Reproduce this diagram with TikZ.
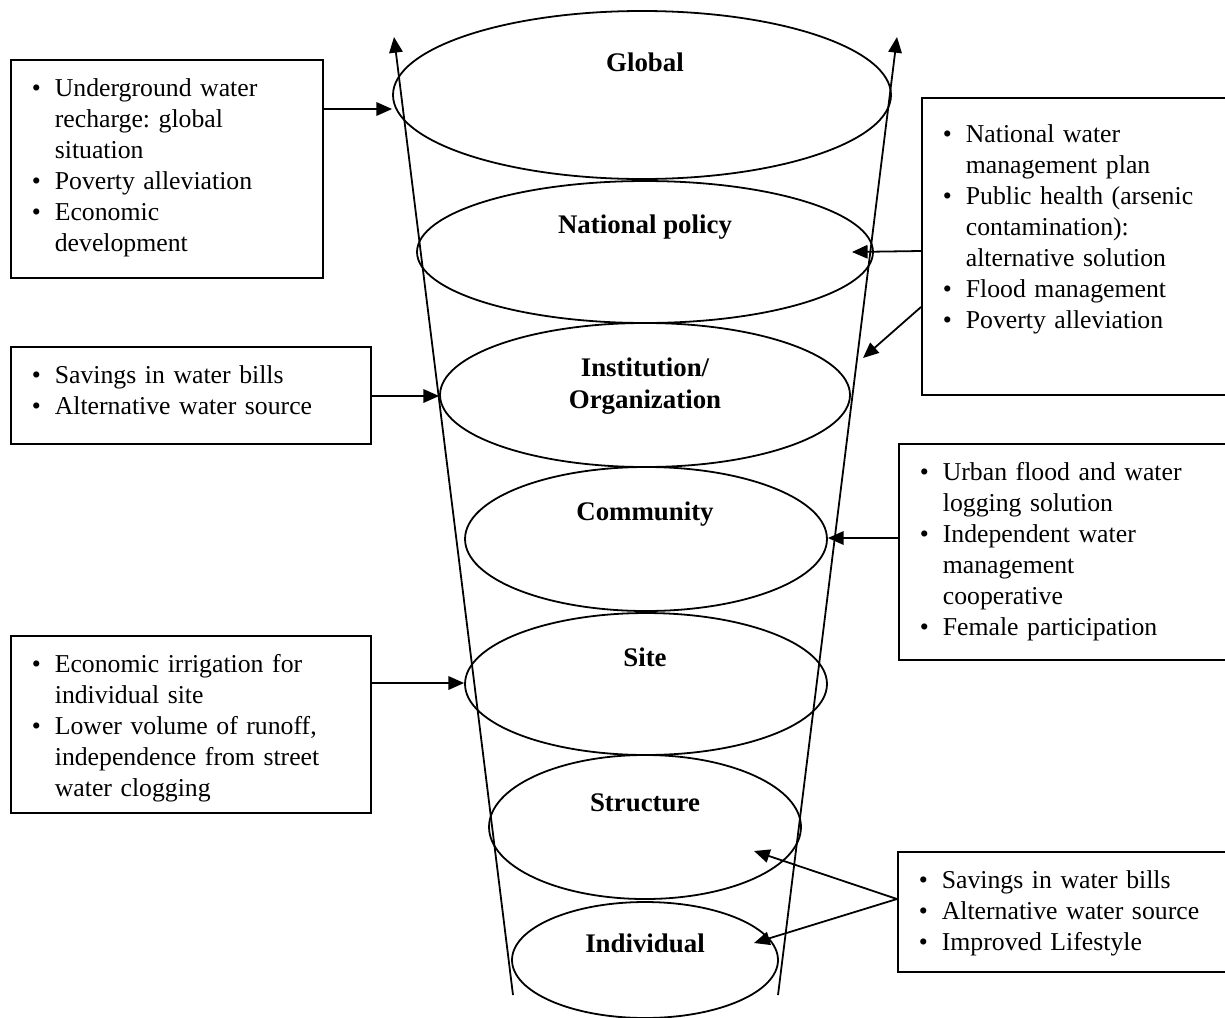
\documentclass[tikz,border=0pt]{standalone}
\usepackage{fontspec}
\setmainfont{Liberation Serif}
\usepackage{tikz}
\usetikzlibrary{positioning, arrows.meta, shapes}
\frenchspacing

\begin{document}
\begin{tikzpicture}[
            x=0.0157cm, y=-0.0157cm,
            ring/.style={ellipse, draw, line width=0.8pt, inner sep=0pt},
            lvl/.style={font=\fontsize{12}{14}\selectfont\bfseries, align=center},
            note/.style={rectangle, draw, line width=0.8pt, anchor=north west, align=left,
                inner xsep=0.33cm, inner ysep=0pt, text height=0.581cm},
            arr/.style={-{Triangle[length=7pt, width=6pt]}, line width=0.8pt},
            every node/.style={font=\fontsize{11.5}{13.8}\selectfont}
        ]
        \useasboundingbox (0,0) rectangle (1225,1017);
        \clip (0,0) rectangle (1225,1017);

        % Levels of the funnel
        \node[ring, minimum width=7.819cm, minimum height=2.638cm] (glob) at (642,95) {};
        \node[ring, minimum width=7.159cm, minimum height=2.229cm] (natl) at (645,252) {};
        \node[ring, minimum width=6.437cm, minimum height=2.261cm] (inst) at (645,395) {};
        \node[ring, minimum width=5.683cm, minimum height=2.261cm] (comm) at (646,539) {};
        \node[ring, minimum width=5.683cm, minimum height=2.229cm] (site) at (646,684) {};
        \node[ring, minimum width=4.898cm, minimum height=2.261cm] (strc) at (645,827) {};
        \node[ring, minimum width=4.176cm, minimum height=1.821cm] (indv) at (645,960) {};

        \node[lvl] (globtxt) at (645,62) {Global};
        \node[lvl] (natltxt) at (645,227) {National policy};
        \node[lvl] (insttxt) at (645,386) {Institution/\\Organization};
        \node[lvl] (commtxt) at (645,514) {Community};
        \node[lvl] (sitetxt) at (645,657) {Site};
        \node[lvl] (strctxt) at (645,803) {Structure};
        \node[lvl] (indvtxt) at (645,943) {Individual};

        % Funnel sides
        \coordinate (lbot) at (513,995);
        \coordinate (ltop) at (394,37);
        \coordinate (rbot) at (778,995);
        \coordinate (rtop) at (897,37);
        \draw[arr] (lbot) -- (ltop);
        \draw[arr] (rbot) -- (rtop);

        % Benefit boxes
        \node[note, text width=4.238cm, text depth=2.842cm] (b1) at (10,59) {%
            \begin{tabular}[t]{@{}p{0.36cm}@{}l@{}}
            \textbullet & Underground water\\
                        & recharge: global\\
                        & situation\\
            \textbullet & Poverty alleviation\\
            \textbullet & Economic\\
                        & development
            \end{tabular}};
        \node[note, text width=4.427cm, text height=0.707cm, text depth=3.956cm] (b2) at (921,97) {%
            \begin{tabular}[t]{@{}p{0.36cm}@{}l@{}}
            \textbullet & National water\\
                        & management plan\\
            \textbullet & Public health (arsenic\\
                        & contamination):\\
                        & alternative solution\\
            \textbullet & Flood management\\
            \textbullet & Poverty alleviation
            \end{tabular}};
        \node[note, text width=4.992cm, text depth=0.942cm] (b3) at (10,346) {%
            \begin{tabular}[t]{@{}p{0.36cm}@{}l@{}}
            \textbullet & Savings in water bills\\
            \textbullet & Alternative water source
            \end{tabular}};
        \node[note, text width=4.788cm, text depth=2.810cm] (b4) at (898,443) {%
            \begin{tabular}[t]{@{}p{0.36cm}@{}l@{}}
            \textbullet & Urban flood and water\\
                        & logging solution\\
            \textbullet & Independent water\\
                        & management\\
                        & cooperative\\
            \textbullet & Female participation
            \end{tabular}};
        \node[note, text width=4.992cm, text depth=2.198cm] (b5) at (10,635) {%
            \begin{tabular}[t]{@{}p{0.36cm}@{}l@{}}
            \textbullet & Economic irrigation for\\
                        & individual site\\
            \textbullet & Lower volume of runoff,\\
                        & independence from street\\
                        & water clogging
            \end{tabular}};
        \node[note, text width=4.804cm, text depth=1.303cm] (b6) at (897,851) {%
            \begin{tabular}[t]{@{}p{0.36cm}@{}l@{}}
            \textbullet & Savings in water bills\\
            \textbullet & Alternative water source\\
            \textbullet & Improved Lifestyle
            \end{tabular}};

        % Arrows into the levels
        \coordinate (natgap) at (863,358);
        \coordinate (strcpt) at (754,851);
        \coordinate (indvpt) at (754,943);

        \draw[arr] (b1.east |- 0,109) -- (glob.west |- 0,109);
        \draw[arr] (b2.west |- 0,251) -- ([xshift=-0.345cm]natl.east);
        \draw[arr] (b2.west |- 0,307) -- (natgap);
        \draw[arr] (b3.east |- 0,396) -- (inst.west |- 0,396);
        \draw[arr] (b4.west |- 0,538) -- (comm.east |- 0,538);
        \draw[arr] (b5.east |- 0,683) -- (site.west |- 0,683);
        \draw[arr] (b6.west |- 0,899) -- (strcpt);
        \draw[arr] (b6.west |- 0,899) -- (indvpt);

    \end{tikzpicture}
\end{document}
